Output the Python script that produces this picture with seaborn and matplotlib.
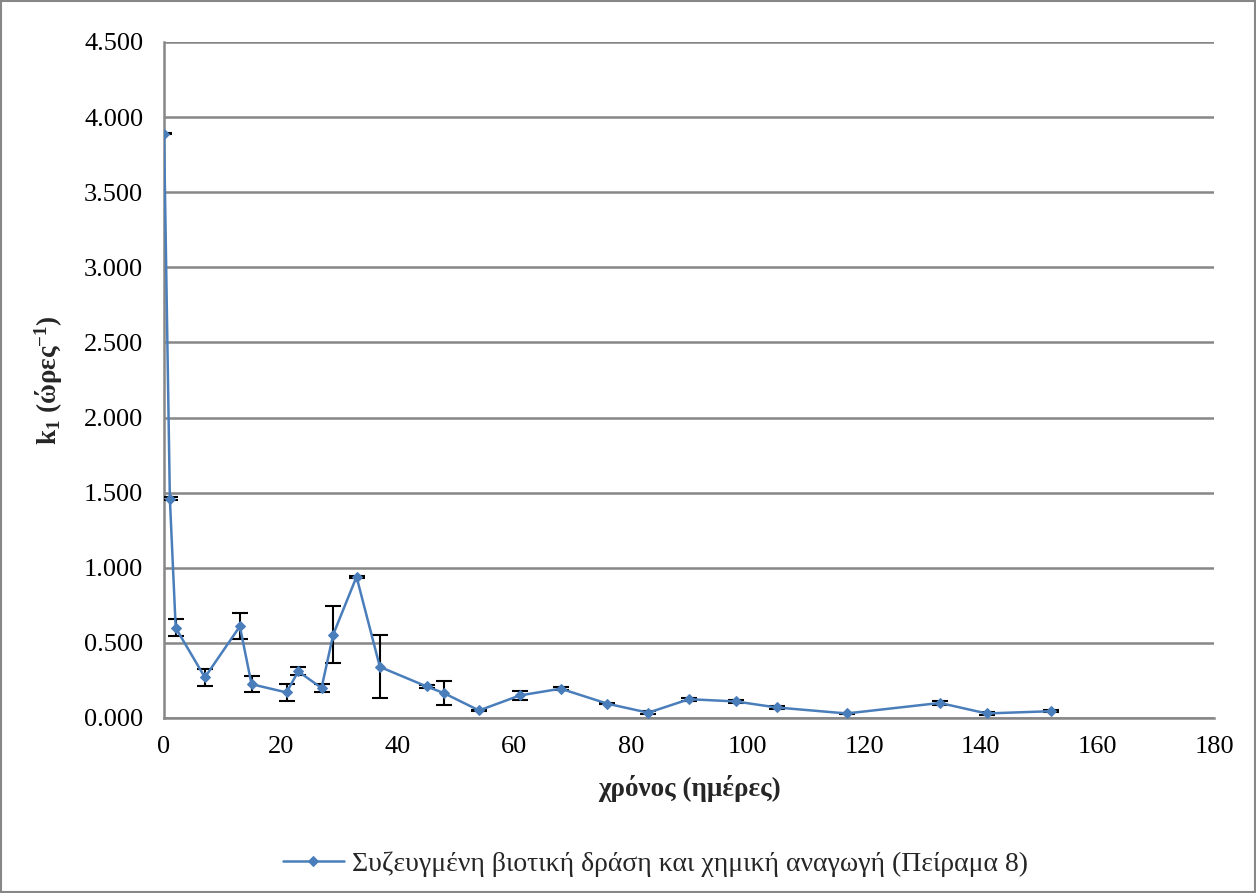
import matplotlib
matplotlib.use("Agg")
import matplotlib.pyplot as plt
from matplotlib.patches import Rectangle
from matplotlib.ticker import FuncFormatter, MultipleLocator
import numpy as np
import pandas as pd
import seaborn as sns

# Measurement days and first-order rate constants
days = [0, 1, 2, 7, 13, 15, 21, 23, 27, 29, 33, 37, 45, 48, 54, 61, 68,
        76, 83, 90, 98, 105, 117, 133, 141, 152]
k1 = [3.89, 1.46, 0.60, 0.27, 0.61, 0.225, 0.17, 0.31, 0.20, 0.555, 0.94,
      0.34, 0.21, 0.165, 0.05, 0.15, 0.195, 0.095, 0.035, 0.125, 0.11,
      0.07, 0.03, 0.10, 0.03, 0.045]
k1_err = [0.005, 0.01, 0.056, 0.056, 0.087, 0.055, 0.055, 0.027, 0.028,
          0.19, 0.005, 0.21, 0.01, 0.078, 0.005, 0.03, 0.012, 0.005, 0.01,
          0.01, 0.012, 0.01, 0.005, 0.012, 0.012, 0.005]

series_name = "Συζευγμένη βιοτική δράση και χημική αναγωγή (Πείραμα 8)"
x_label = "χρόνος (ημέρες)"
y_label = "k$_1$ (ώρες$^{-1}$)"

df = pd.DataFrame({"t": days, "k": k1, "err": k1_err})

sns.set_style("white")
plt.rcParams["font.family"] = ["Liberation Serif", "DejaVu Serif"]
plt.rcParams["mathtext.fontset"] = "custom"
plt.rcParams["mathtext.rm"] = "Liberation Serif:bold"
plt.rcParams["mathtext.it"] = "Liberation Serif:bold"
plt.rcParams["mathtext.bf"] = "Liberation Serif:bold"

grid_col = "#878787"
line_col = "#4a7ebb"

fig = plt.figure(figsize=(12.56, 8.93), dpi=100)
ax = fig.add_axes([0.1306, 0.196, 0.836, 0.757])

ax.errorbar(df["t"], df["k"], yerr=df["err"], fmt="none", ecolor="black",
            elinewidth=1.5, capsize=6, capthick=1.5, zorder=3)
sns.lineplot(data=df, x="t", y="k", ax=ax, color=line_col, linewidth=1.8,
             marker="D", markersize=5, markeredgecolor=line_col,
             label=series_name, zorder=4)

ax.set_xlim(0, 180)
ax.set_ylim(0, 4.5)
ax.xaxis.set_major_locator(MultipleLocator(20))
ax.yaxis.set_major_locator(MultipleLocator(0.5))
ax.yaxis.set_major_formatter(FuncFormatter(lambda v, p: f"{v:.3f}"))

ax.grid(axis="y", color=grid_col, linewidth=1.8)
ax.grid(axis="x", visible=False)
ax.set_axisbelow(True)

for side in ("top", "right"):
    ax.spines[side].set_visible(False)
for side in ("left", "bottom"):
    ax.spines[side].set_color(grid_col)
    ax.spines[side].set_linewidth(1.8)

ax.tick_params(axis="both", which="major", labelsize=19, colors="black",
               length=5, width=1.5, color=grid_col, direction="out")
ax.tick_params(axis="y", pad=10)
ax.tick_params(axis="x", pad=8)

ax.set_xlabel(x_label, fontsize=19.5, fontweight="bold", labelpad=12)
ax.set_ylabel(y_label, fontsize=19.5, fontweight="bold", labelpad=14)

leg = ax.legend(loc="upper center", bbox_to_anchor=(0.468, -0.16),
                frameon=False, fontsize=20, handlelength=2.2,
                handletextpad=0.3)

fig.patches.append(Rectangle((0.001, 0.001), 0.998, 0.998,
                             transform=fig.transFigure, fill=False,
                             edgecolor=grid_col, linewidth=1.5))

fig.savefig("out.png", dpi=100, facecolor="white")
